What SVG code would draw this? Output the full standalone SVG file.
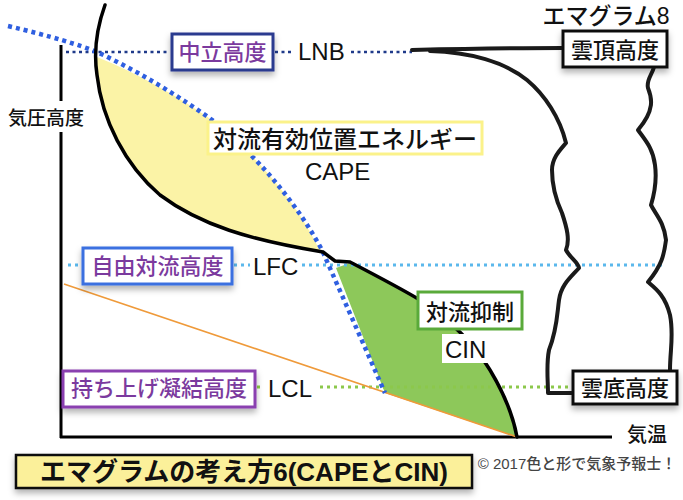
<svg xmlns="http://www.w3.org/2000/svg" width="683" height="500" viewBox="0 0 683 500">
<defs>
<filter id="sh" x="-10%" y="-20%" width="120%" height="160%">
<feDropShadow dx="0" dy="4" stdDeviation="3" flood-color="#000" flood-opacity="0.3"/>
</filter>
<style>
text{font-family:"Liberation Sans","Noto Sans CJK JP",sans-serif;}
.jp{font-size:22px;fill:#7b3a9e;font-weight:500;}
.bk{fill:#111;font-weight:500;}
.lat{font-size:24px;fill:#111;}
.box{fill:#fff;stroke-width:3;}
.cloud{fill:none;stroke:#1a1a1a;stroke-width:4;stroke-linejoin:round;stroke-linecap:round;}
.env{fill:none;stroke:#000;stroke-width:3.5;stroke-linecap:round;}
</style>
</defs>
<rect width="683" height="500" fill="#fff"/>

<g id="areas">
<path d="M97,57 C140,74 180,98 215,122 C255,155 295,200 318,247 L323,252 C250,240 200,225 160,195 C125,165 102,120 97,75 Z" fill="#fbf3a6"/>
<path d="M336,268 L350,263 C375,276 400,288 420,300 C450,320 475,345 490,370 C505,395 513,415 517,437 L385,393 Z" fill="#8dc85a"/>
</g>

<g id="axes" stroke="#000" stroke-width="3" fill="none">
<line x1="61" y1="45" x2="61" y2="101"/>
<line x1="61" y1="132" x2="61" y2="438"/>
<line x1="60" y1="437" x2="612" y2="437"/>
</g>

<g id="connectors" fill="none">
<g stroke="#1f3a8a" stroke-width="2.5" stroke-dasharray="3 3.5">
<line x1="66" y1="52" x2="170" y2="52"/>
<line x1="275" y1="52" x2="294" y2="52"/>
<line x1="351" y1="52" x2="412" y2="52"/>
</g>
<g stroke="#5bb8ec" stroke-width="3" stroke-dasharray="3 4">
<line x1="68" y1="265" x2="82" y2="265"/>
<line x1="234" y1="265" x2="250" y2="265"/>
<line x1="302" y1="265" x2="662" y2="265"/>
</g>
<g stroke="#8cc84b" stroke-width="3" stroke-dasharray="3 4">
<line x1="257" y1="387" x2="264" y2="387"/>
<line x1="320" y1="387" x2="572" y2="387"/>
</g>
<line x1="64" y1="284" x2="517" y2="437" stroke="#ef9a3a" stroke-width="1.6"/>
<path d="M8,26 C50,36 80,45 97,52 C140,72 180,97 215,122 C255,155 295,200 322,250 L385,393" stroke="#2f5fe0" stroke-width="4.5" stroke-dasharray="4 4"/>
<path class="env" d="M105,5 C96,30 94,55 97,75 C102,120 125,165 160,195 C200,225 250,240 323,252 L335,261 L350,262 C375,275 400,288 420,300 C450,320 475,345 490,370 C505,395 513,415 517,437"/>
</g>

<g id="cloud">
<path class="cloud" d="M412,50 C460,49 520,48 563,48"/>
<path class="cloud" d="M430,51 C470,52 505,62 527,80 C545,95 560,118 566,143 C560,150 552,158 552,170 C552,185 556,200 562,213 C567,228 570,240 566,250 C570,258 578,262 579,268 C570,278 561,285 559,300 C557,315 557,330 549,350 C546,365 548,380 548,393 L573,393"/>
<path class="cloud" d="M654,67 C652,75 646,80 648,88 C652,98 655,110 638,130 C645,140 653,148 655,165 C657,180 654,195 651,205 C656,215 664,222 666,240 C664,255 662,265 648,282 C655,288 665,295 670,315 C674,335 670,350 670,370"/>
</g>

<g id="lnb">
<rect class="box" x="172" y="34" width="101" height="36" stroke="#2a3b8f" filter="url(#sh)"/>
<text class="jp" x="222.5" y="60" text-anchor="middle">中立高度</text>
<text class="lat" x="298" y="60">LNB</text>
</g>

<g id="lfc">
<rect class="box" x="83" y="248" width="149" height="36" stroke="#3a6fe0" filter="url(#sh)"/>
<text class="jp" x="157.5" y="274" text-anchor="middle">自由対流高度</text>
<text class="lat" x="253" y="275">LFC</text>
</g>

<g id="lcl">
<rect class="box" x="63" y="371" width="192" height="36" stroke="#8a3fb0" filter="url(#sh)"/>
<text class="jp" x="159" y="396" text-anchor="middle">持ち上げ凝結高度</text>
<text class="lat" x="268" y="397">LCL</text>
</g>

<g id="cape">
<rect class="box" x="208" y="122" width="274" height="32" stroke="#fbf28a"/>
<text class="bk" x="345" y="148" font-size="24" text-anchor="middle">対流有効位置エネルギー</text>
<text class="lat" x="305" y="180">CAPE</text>
</g>

<g id="cin">
<rect class="box" x="418" y="292" width="104" height="37" stroke="#5aaa3a"/>
<text class="bk" x="470" y="320" font-size="22" text-anchor="middle">対流抑制</text>
<rect x="442" y="334" width="46" height="29" fill="#fff"/>
<text class="lat" x="445" y="358">CIN</text>
</g>

<g id="cloudtop">
<text class="bk" x="606" y="24" font-size="23" text-anchor="middle">エマグラム8</text>
<rect class="box" x="563" y="31" width="104" height="36" stroke="#111" stroke-width="2.5" filter="url(#sh)"/>
<text class="bk" x="615" y="58" font-size="22" text-anchor="middle">雲頂高度</text>
</g>

<g id="cloudbase">
<rect class="box" x="573" y="371" width="104" height="33" stroke="#111" stroke-width="2.5" filter="url(#sh)"/>
<text class="bk" x="625" y="396" font-size="22" text-anchor="middle">雲底高度</text>
</g>

<g id="axislabels">
<text class="bk" x="46" y="125" font-size="19" text-anchor="middle">気圧高度</text>
<text class="bk" x="647" y="442" font-size="20" text-anchor="middle">気温</text>
</g>

<g id="title">
<rect x="16" y="455" width="456" height="33" fill="#fbf09a" stroke="#111" stroke-width="2.5" filter="url(#sh)"/>
<text x="244" y="481" font-size="26" fill="#111" font-weight="600" text-anchor="middle">エマグラムの考え方6(CAPEとCIN)</text>
</g>

<g id="copyright">
<text x="577" y="469" font-size="15" fill="#444" font-weight="500" text-anchor="middle">© 2017色と形で気象予報士！</text>
</g>
</svg>
